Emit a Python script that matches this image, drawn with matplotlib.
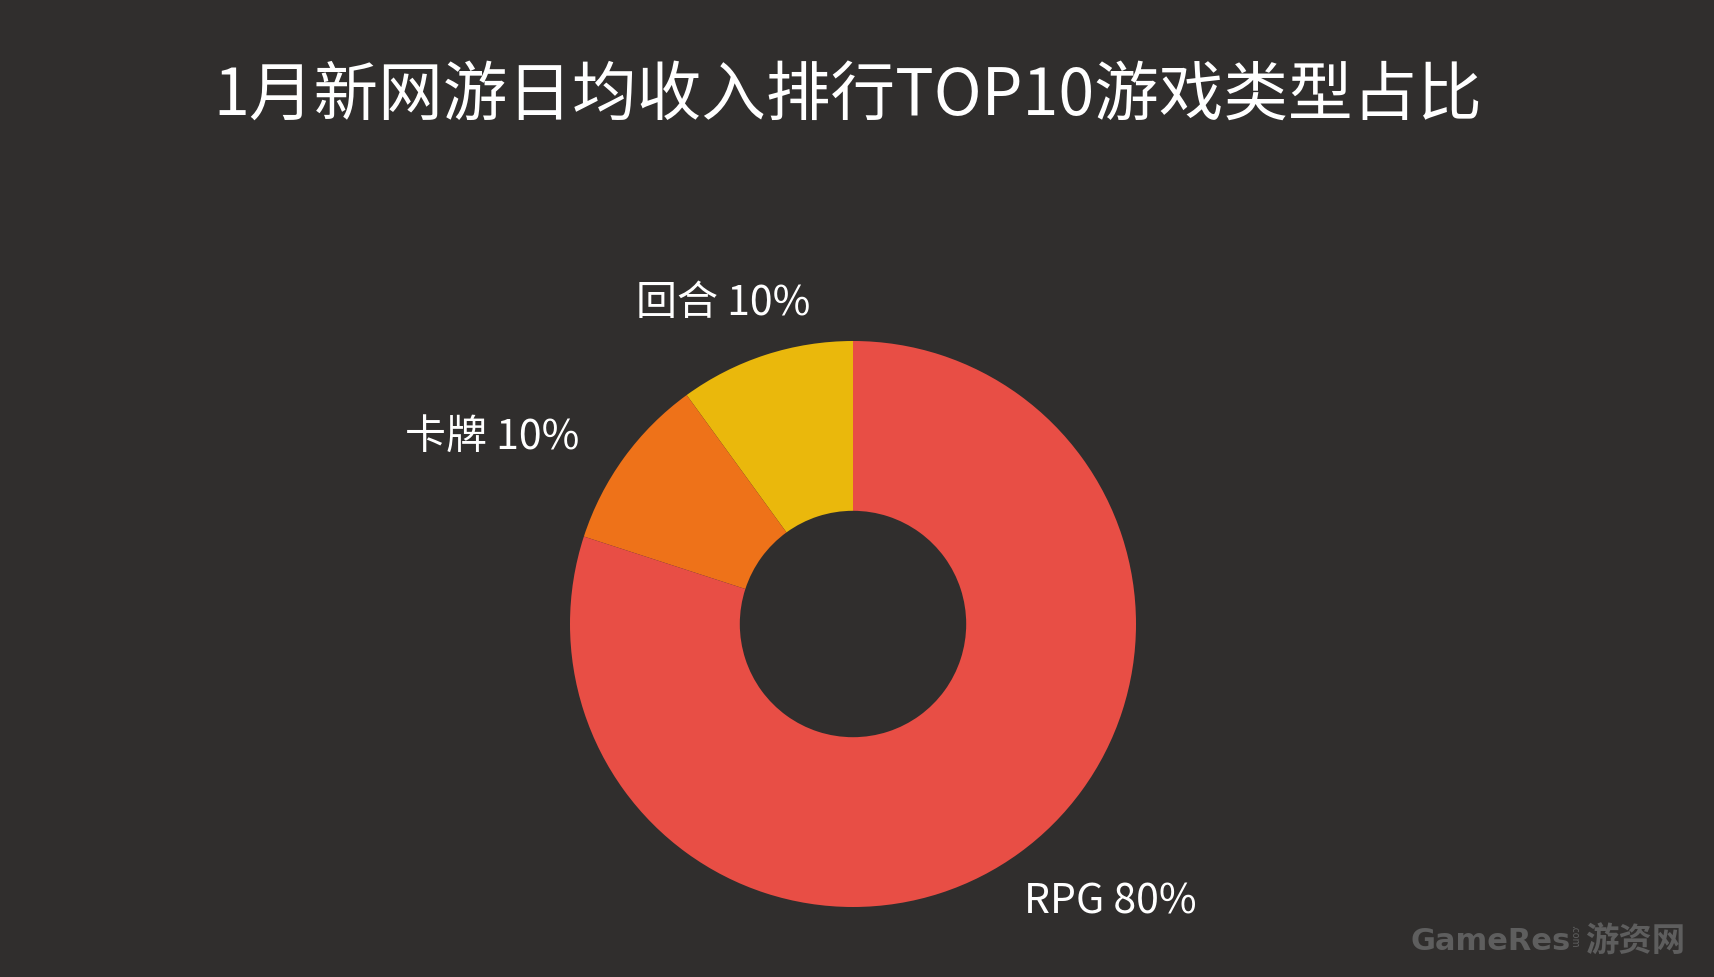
import matplotlib
matplotlib.use("Agg")
import matplotlib.pyplot as plt

plt.rcParams['font.family'] = ['Noto Sans CJK SC', 'DejaVu Sans']

# data
categories = ['回合', '卡牌', 'RPG']
shares = [10, 10, 80]
colors = ['#EAB80C', '#EE7219', '#E84E45']
bg = '#302E2D'

W, H = 1714, 977
fig = plt.figure(figsize=(W / 100, H / 100), dpi=100, facecolor=bg)

# donut centre and radius in pixels
cx, cy, r = 853, 977 - 624, 283
ax = fig.add_axes([(cx - r) / W, (cy - r) / H, 2 * r / W, 2 * r / H])
ax.set_facecolor(bg)
ax.pie(shares, colors=colors, startangle=90, counterclock=True, radius=1,
       wedgeprops=dict(width=0.6, linewidth=0))
ax.set_xlim(-1, 1)
ax.set_ylim(-1, 1)
ax.set_aspect('equal')
ax.axis('off')

fig.text(848 / W, 1 - 96 / H, '1月新网游日均收入排行TOP10游戏类型占比',
         color='white', fontsize=46.5, ha='center', va='center')

# label positions (pixels from top-left)
label_pos = [(723, 304), (492, 437), (1110, 902)]
for (x, y), name, v in zip(label_pos, categories, shares):
    fig.text(x / W, 1 - y / H, '%s %d%%' % (name, v), color='white',
             fontsize=29.5, ha='center', va='center')

# watermark
fig.text(1410 / W, 1 - 942 / H, 'GameRes', color='#5E5E5E', fontsize=22,
         fontweight='bold', ha='left', va='center', family=['DejaVu Sans'])
fig.text(1574 / W, 1 - 936 / H, '.com', color='#5E5E5E', fontsize=7,
         rotation=-90, ha='center', va='center')
fig.text(1585 / W, 1 - 942 / H, '游资网', color='#5E5E5E', fontsize=24,
         fontweight='bold', ha='left', va='center')

fig.savefig('out.png', dpi=100, facecolor=bg)
